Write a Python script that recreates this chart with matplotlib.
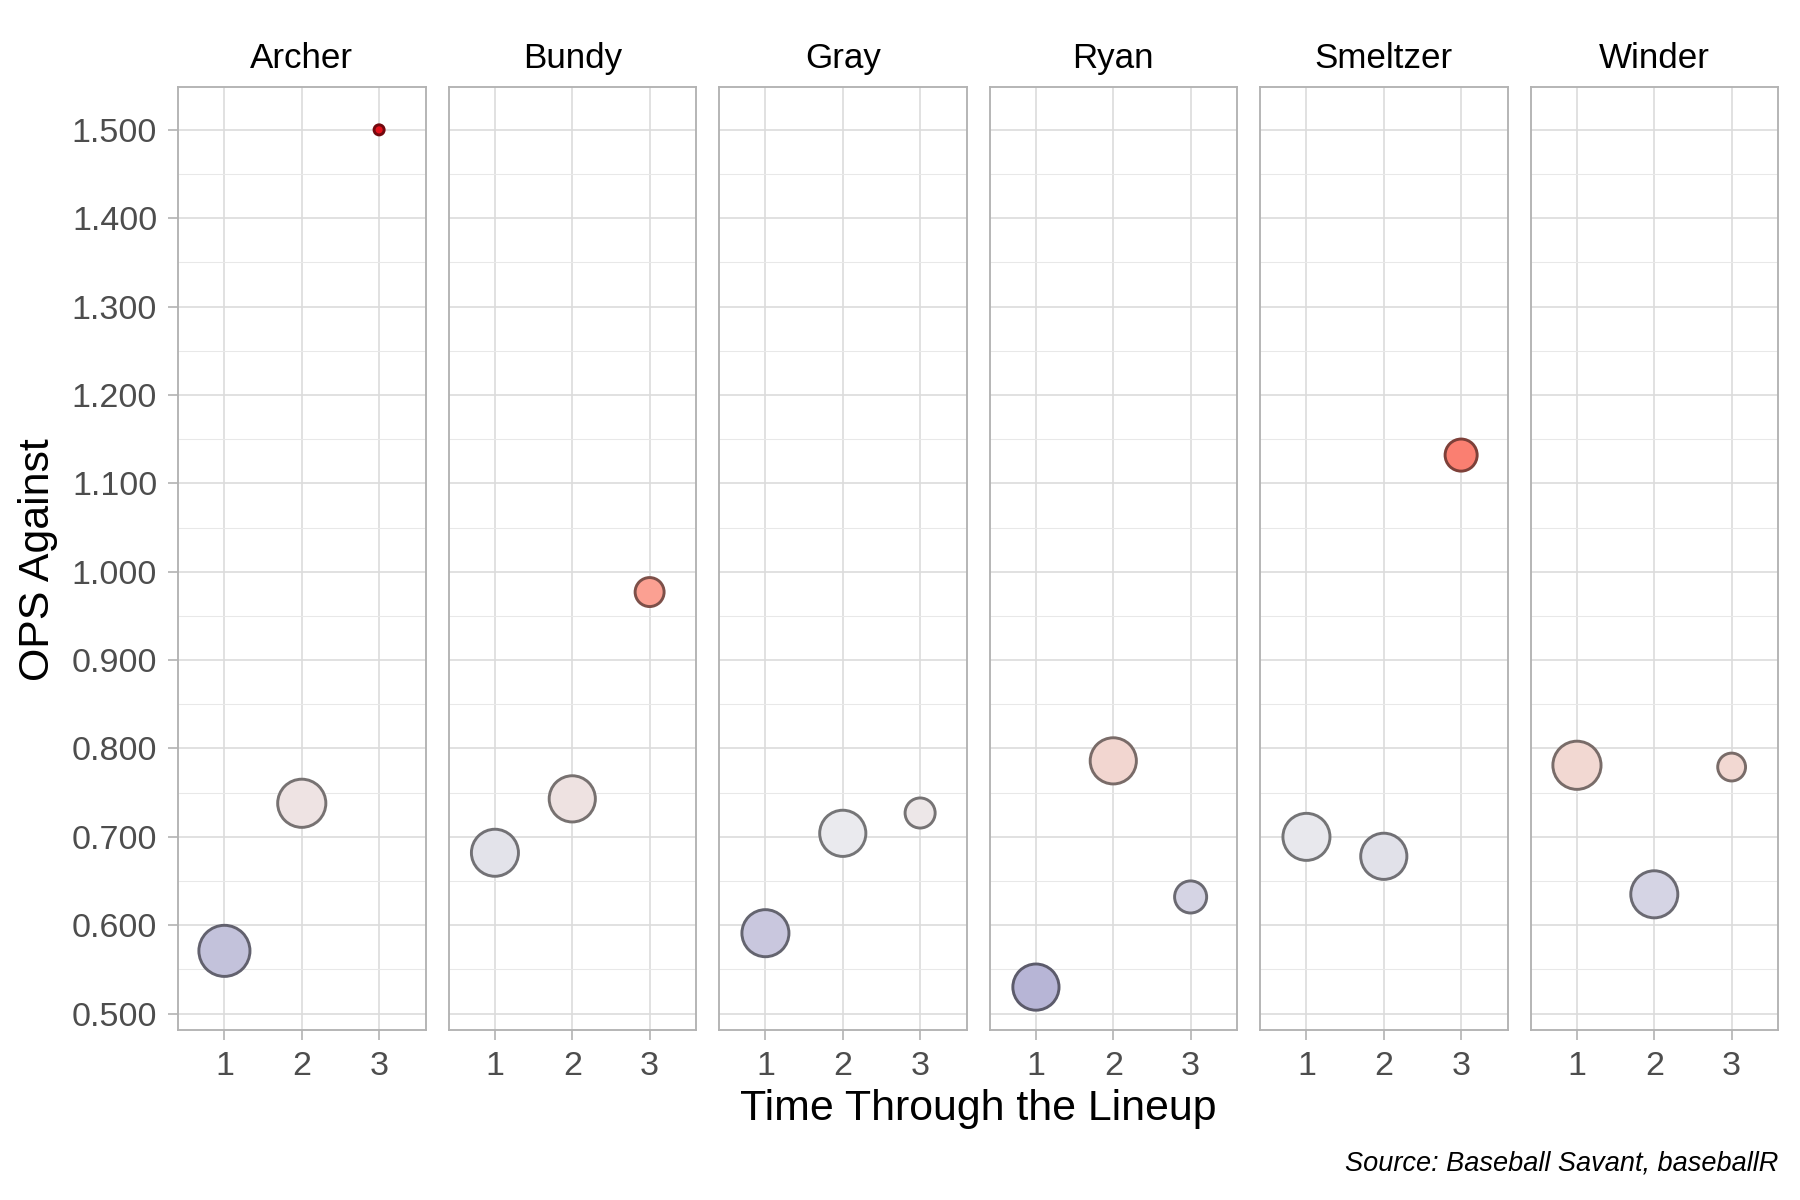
import numpy as np
import matplotlib
matplotlib.use("Agg")
import matplotlib.pyplot as plt
from matplotlib.colors import LinearSegmentedColormap, Normalize, to_rgb
from matplotlib.ticker import MultipleLocator, FuncFormatter

plt.rcParams['font.family'] = ['Liberation Sans', 'DejaVu Sans']

# data
pitchers = ["Archer", "Bundy", "Gray", "Ryan", "Smeltzer", "Winder"]
times_through = [1, 2, 3]
ops_against = [
    [0.571, 0.738, 1.500],   # Archer
    [0.682, 0.743, 0.977],   # Bundy
    [0.591, 0.704, 0.727],   # Gray
    [0.530, 0.786, 0.632],   # Ryan
    [0.700, 0.678, 1.132],   # Smeltzer
    [0.781, 0.635, 0.779],   # Winder
]
# plate appearances (point size)
plate_app = [
    [84, 73, 4],
    [69, 66, 21],
    [69, 66, 23],
    [66, 66, 27],
    [69, 66, 27],
    [73, 69, 19],
]

ops = np.array(ops_against)
pa = np.array(plate_app, dtype=float)

# fill scale: diverging around a midpoint, like scale_fill_gradient2
midpoint = 0.71
half = np.abs(ops - midpoint).max()
norm = Normalize(vmin=midpoint - half, vmax=midpoint + half)
cmap = LinearSegmentedColormap.from_list("ops", [
    (0.0, "#0b0285"),
    (0.5, "#ebebee"),
    (0.544, "#f2d8d3"),
    (0.669, "#fba193"),
    (0.767, "#fa8072"),
    (1.0, "#e3111b"),
])

# size scale: area palette (diameter in px at 150 dpi)
d_min, d_max = 13, 54
def point_size(v):
    frac = (v - pa.min()) / (pa.max() - pa.min())
    d_px = d_min + (d_max - d_min) * np.sqrt(frac)
    d_pt = d_px * 72 / 150 - 1.4
    return d_pt ** 2

# y limits with ggplot-style 5% expansion
span = ops.max() - ops.min()
ylo, yhi = ops.min() - 0.05 * span, ops.max() + 0.05 * span

fig, axes = plt.subplots(1, 6, figsize=(12, 8), dpi=150, sharey=True)
fig.subplots_adjust(left=0.0989, right=0.9878, top=0.9275, bottom=0.1417, wspace=0.093)

border = "#b3b3b3"
for k, ax in enumerate(axes):
    vals = ops[k]
    fills = cmap(norm(vals))
    edges = [tuple(np.array(to_rgb(c[:3])) * 0.5) for c in fills]
    ax.scatter(times_through, vals, s=point_size(pa[k]), c=fills,
               edgecolors=edges, linewidths=1.4, zorder=3)

    ax.set_xlim(0.4, 3.6)
    ax.set_ylim(ylo, yhi)
    ax.set_xticks(times_through)
    ax.yaxis.set_major_locator(MultipleLocator(0.1))
    ax.yaxis.set_minor_locator(MultipleLocator(0.05))
    ax.yaxis.set_major_formatter(FuncFormatter(lambda v, p: f"{v:.3f}"))

    ax.grid(True, which="major", color="#dcdcdc", lw=0.8, zorder=0)
    ax.grid(True, which="minor", axis="y", color="#e8e8e8", lw=0.5, zorder=0)
    ax.set_axisbelow(True)
    for sp in ax.spines.values():
        sp.set_color(border)
        sp.set_linewidth(0.9)

    ax.tick_params(axis="both", which="major", color=border, width=0.8, length=5,
                   pad=5, labelsize=16.3, labelcolor="#4d4d4d")
    ax.tick_params(axis="y", which="minor", length=0)
    if k > 0:
        ax.tick_params(axis="y", which="both", left=False)

    ax.text(0.5, 1.03, pitchers[k], transform=ax.transAxes, ha="center",
            va="center", fontsize=16.8, color="black")

fig.text(0.5433, 0.0755, "Time Through the Lineup", ha="center", va="center",
         fontsize=20.6, color="black")
fig.text(0.021, 0.534, "OPS Against", ha="center", va="center", rotation=90,
         fontsize=20.6, color="black")
fig.text(0.9878, 0.030, "Source: Baseball Savant, baseballR", ha="right",
         va="center", fontsize=13, style="italic", color="black")

fig.savefig("out.png", dpi=150, facecolor="white")
